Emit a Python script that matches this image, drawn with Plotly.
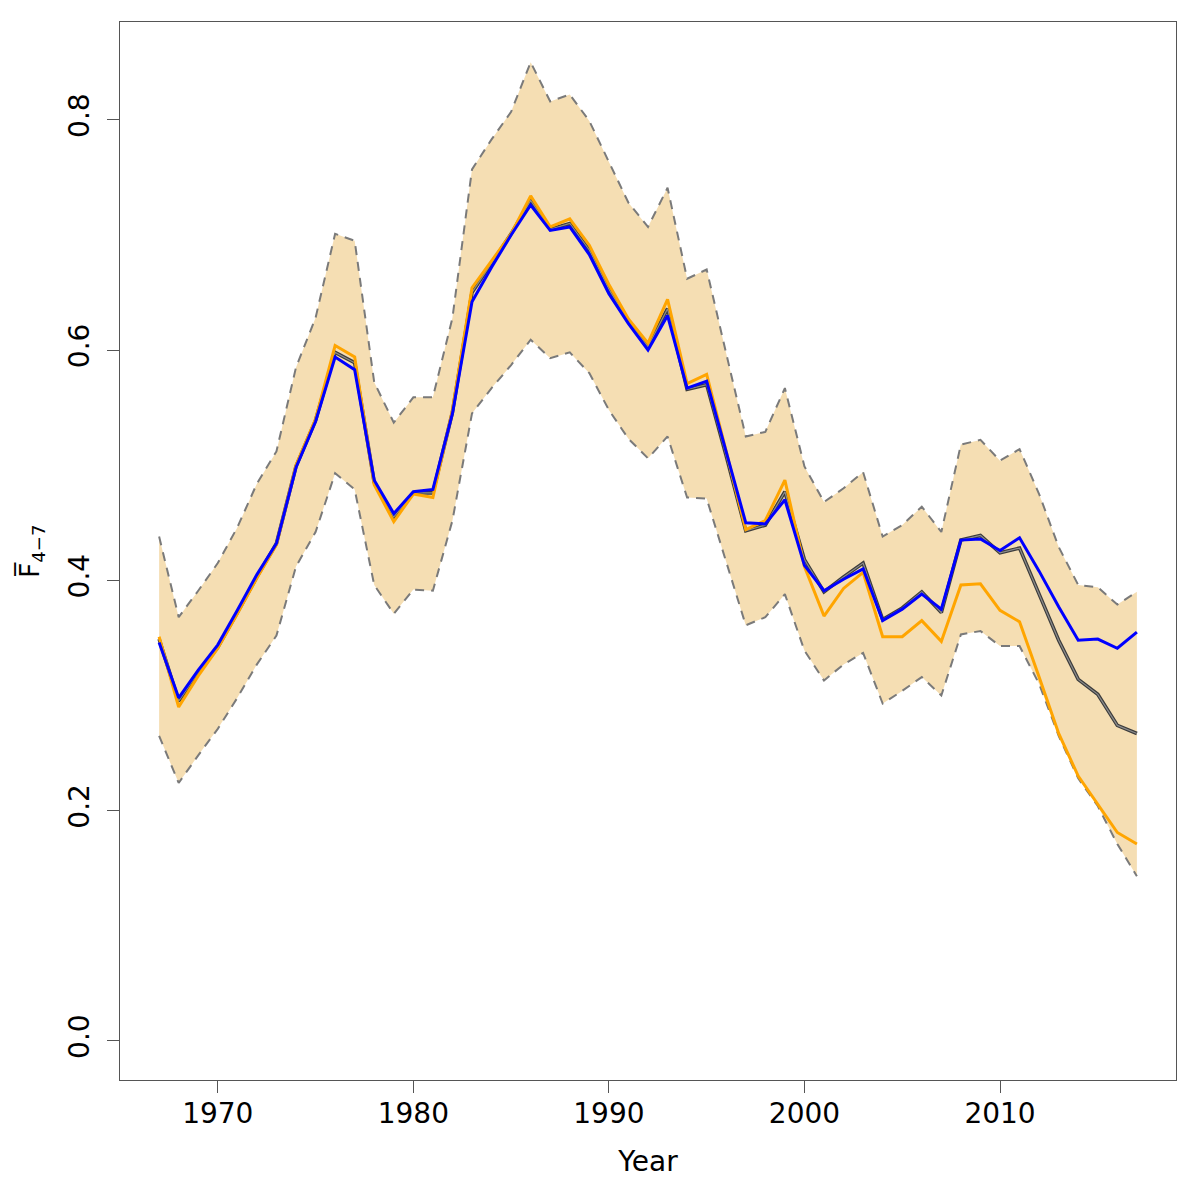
import plotly.graph_objects as go

years = list(range(1967, 2018))

blue = [0.346, 0.298, 0.322, 0.344, 0.374, 0.405, 0.432, 0.498, 0.538, 0.594,
        0.583, 0.487, 0.458, 0.477, 0.479, 0.545, 0.642, 0.672, 0.700, 0.726,
        0.704, 0.707, 0.683, 0.649, 0.623, 0.600, 0.630, 0.567, 0.573, 0.512,
        0.450, 0.449, 0.470, 0.413, 0.391, 0.401, 0.410, 0.365, 0.375, 0.388,
        0.375, 0.435, 0.436, 0.426, 0.437, 0.408, 0.377, 0.348, 0.349, 0.341,
        0.355]

orange = [0.351, 0.290, 0.317, 0.341, 0.371, 0.402, 0.431, 0.500, 0.540, 0.604,
          0.594, 0.483, 0.451, 0.475, 0.472, 0.548, 0.654, 0.677, 0.701, 0.734,
          0.707, 0.714, 0.691, 0.657, 0.627, 0.606, 0.644, 0.571, 0.579, 0.512,
          0.444, 0.452, 0.487, 0.412, 0.369, 0.393, 0.407, 0.351, 0.351, 0.365,
          0.347, 0.396, 0.397, 0.374, 0.364, 0.316, 0.267, 0.230, 0.206, 0.181,
          0.171]

black = [0.349, 0.295, 0.320, 0.342, 0.372, 0.403, 0.432, 0.499, 0.539, 0.598,
         0.589, 0.485, 0.455, 0.476, 0.476, 0.546, 0.650, 0.675, 0.701, 0.730,
         0.705, 0.710, 0.687, 0.653, 0.625, 0.603, 0.636, 0.566, 0.570, 0.508,
         0.443, 0.448, 0.477, 0.418, 0.390, 0.403, 0.415, 0.366, 0.376, 0.390,
         0.372, 0.435, 0.439, 0.424, 0.428, 0.388, 0.348, 0.314, 0.301, 0.274,
         0.267]

upper = [0.438, 0.368, 0.391, 0.415, 0.446, 0.484, 0.512, 0.585, 0.628, 0.701,
         0.695, 0.572, 0.537, 0.559, 0.559, 0.628, 0.757, 0.783, 0.807, 0.850,
         0.816, 0.822, 0.799, 0.764, 0.728, 0.707, 0.741, 0.662, 0.670, 0.597,
         0.525, 0.529, 0.567, 0.499, 0.468, 0.480, 0.494, 0.438, 0.448, 0.464,
         0.442, 0.518, 0.522, 0.504, 0.514, 0.475, 0.429, 0.396, 0.394, 0.379,
         0.390]

lower = [0.265, 0.224, 0.248, 0.271, 0.298, 0.327, 0.352, 0.412, 0.442, 0.493,
         0.479, 0.396, 0.371, 0.392, 0.391, 0.452, 0.545, 0.567, 0.587, 0.609,
         0.593, 0.598, 0.580, 0.548, 0.523, 0.506, 0.525, 0.472, 0.471, 0.416,
         0.361, 0.368, 0.388, 0.339, 0.313, 0.327, 0.337, 0.293, 0.304, 0.316,
         0.300, 0.353, 0.356, 0.343, 0.343, 0.310, 0.265, 0.228, 0.204, 0.171,
         0.143]

x_ticks = [1970, 1980, 1990, 2000, 2010]
y_ticks = [0.0, 0.2, 0.4, 0.6, 0.8]

fig = go.Figure()

# confidence band fill
fig.add_trace(go.Scatter(x=years, y=lower, mode="lines", line=dict(width=0),
                         hoverinfo="skip", showlegend=False))
fig.add_trace(go.Scatter(x=years, y=upper, mode="lines", line=dict(width=0),
                         fill="tonexty", fillcolor="#F5DEB3",
                         hoverinfo="skip", showlegend=False))
# dashed bounds
for b in (lower, upper):
    fig.add_trace(go.Scatter(x=years, y=b, mode="lines",
                             line=dict(color="#7a7a7a", width=2, dash="9px,7px"),
                             showlegend=False))

# grey/black line (dark edge + lighter core)
fig.add_trace(go.Scatter(x=years, y=black, mode="lines",
                         line=dict(color="#3c3c3c", width=3.6), showlegend=False))
fig.add_trace(go.Scatter(x=years, y=black, mode="lines",
                         line=dict(color="#8c8c8c", width=1.2), showlegend=False))
fig.add_trace(go.Scatter(x=years, y=orange, mode="lines",
                         line=dict(color="#FFA500", width=3), showlegend=False))
fig.add_trace(go.Scatter(x=years, y=blue, mode="lines",
                         line=dict(color="#0000FF", width=3), showlegend=False))

axis_common = dict(
    showgrid=False, zeroline=False,
    showline=True, mirror=True, linecolor="#555555", linewidth=1,
    ticks="outside", ticklen=12, tickwidth=1, tickcolor="#555555",
    tickfont=dict(family="DejaVu Sans", size=28, color="black"),
)

fig.update_layout(
    width=1192, height=1192,
    margin=dict(l=112, r=24, t=14, b=120),
    paper_bgcolor="white", plot_bgcolor="white",
    font=dict(family="DejaVu Sans", color="black"),
    xaxis=dict(range=[1965, 2019], tickvals=x_ticks,
               ticktext=[str(v) for v in x_ticks], ticklabelstandoff=-4,
               title=dict(text="Year", font=dict(size=28), standoff=22),
               **axis_common),
    yaxis=dict(range=[-0.034, 0.885], tickvals=y_ticks,
               ticktext=[f"{v:.1f}" for v in y_ticks], tickangle=-90,
               ticklabelstandoff=7,
               title=dict(text="F\u0305<sub>4\u22127</sub>", font=dict(size=26), standoff=15),
               **axis_common),
)

fig.write_html("out.html")
